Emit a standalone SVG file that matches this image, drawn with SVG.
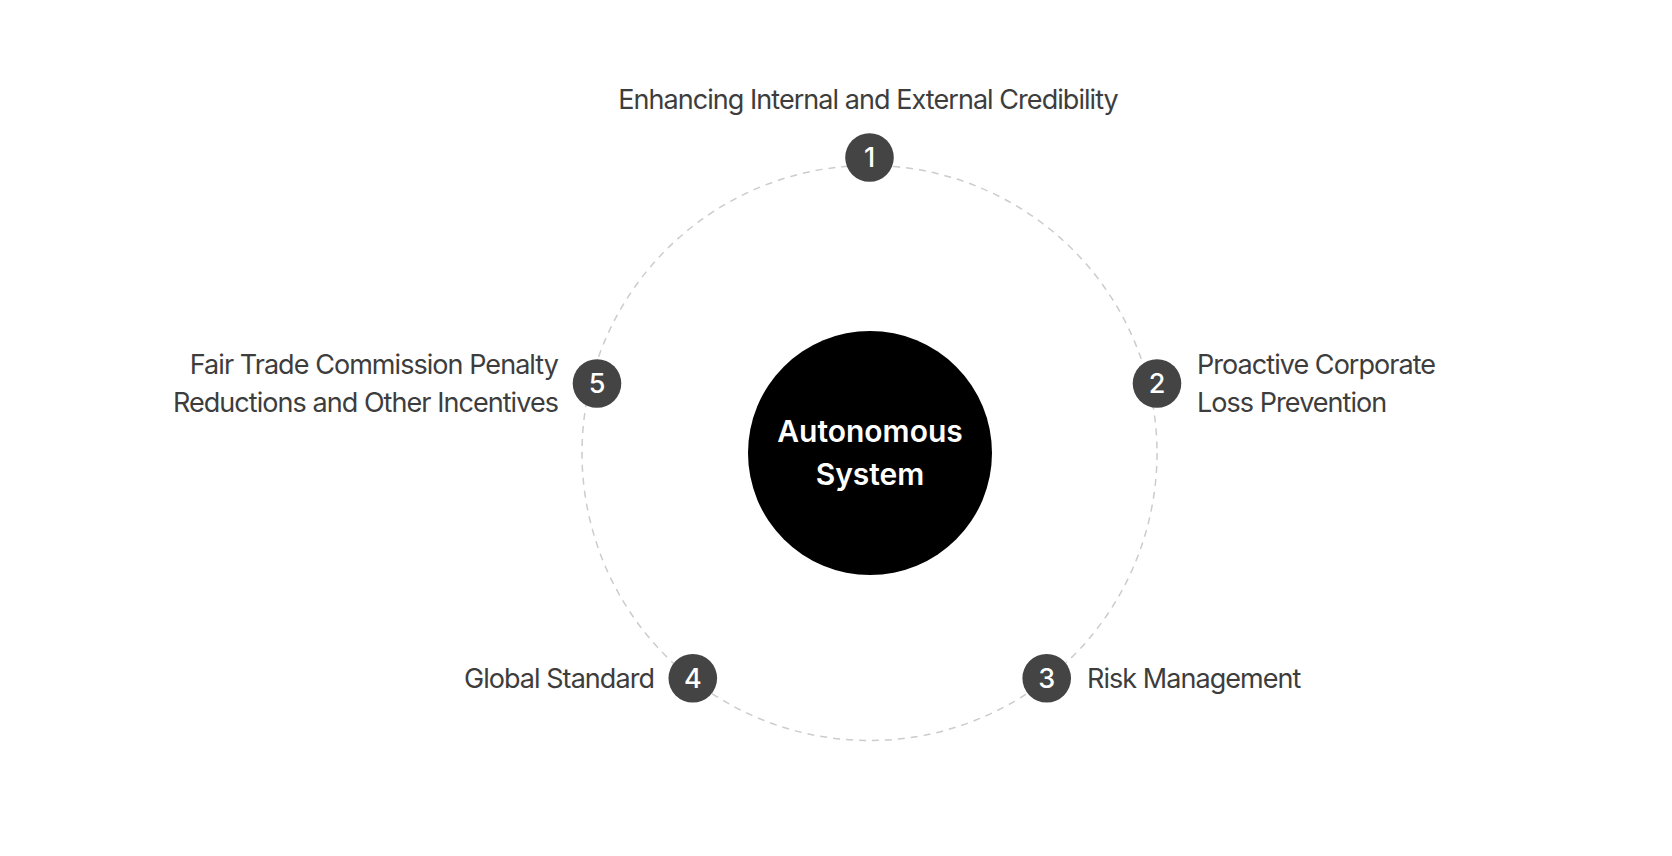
<svg xmlns="http://www.w3.org/2000/svg" width="1672" height="856" viewBox="0 0 1672 856">
  <style>
    .lbl { font-family: "Inter", "Noto Sans", "Liberation Sans", sans-serif; font-size: 27px; letter-spacing: -0.95px; fill: #3d3d3d; }
    .num { font-family: "Inter", "Noto Sans", "Liberation Sans", sans-serif; font-size: 27px; font-weight: 500; fill: #ffffff; text-anchor: middle; }
    .badge { fill: #444444; }
    .core { font-family: "Inter", "Noto Sans", "Liberation Sans", sans-serif; font-size: 30px; font-weight: 600; fill: #ffffff; text-anchor: middle; }
  </style>
  <rect x="0" y="0" width="1672" height="856" fill="#ffffff"/>
  <g id="connectors">
    <circle cx="869.5" cy="453" r="287.5" fill="none" stroke="#cccccc" stroke-width="1.5" stroke-dasharray="7 6"/>
  </g>
  <g id="center">
    <circle cx="870" cy="453" r="122" fill="#000000"/>
    <text class="core" x="870" y="442">Autonomous</text>
    <text class="core" x="870" y="485">System</text>
  </g>
  <g id="node1">
    <circle class="badge" cx="869.5" cy="157.5" r="24.3"/>
    <text class="num" x="869.5" y="167.3">1</text>
    <text class="lbl" x="868" y="109" text-anchor="middle">Enhancing Internal and External Credibility</text>
  </g>
  <g id="node2">
    <circle class="badge" cx="1157" cy="383.5" r="24.3"/>
    <text class="num" x="1157" y="393.3">2</text>
    <text class="lbl" x="1197" y="374">Proactive Corporate</text>
    <text class="lbl" x="1197" y="412">Loss Prevention</text>
  </g>
  <g id="node3">
    <circle class="badge" cx="1046.7" cy="678.3" r="24.3"/>
    <text class="num" x="1046.7" y="688.1">3</text>
    <text class="lbl" x="1087" y="688">Risk Management</text>
  </g>
  <g id="node4">
    <circle class="badge" cx="692.8" cy="678.3" r="24.3"/>
    <text class="num" x="692.8" y="688.1">4</text>
    <text class="lbl" x="654" y="688" text-anchor="end">Global Standard</text>
  </g>
  <g id="node5">
    <circle class="badge" cx="597" cy="383.5" r="24.3"/>
    <text class="num" x="597" y="393.3">5</text>
    <text class="lbl" x="558" y="374" text-anchor="end">Fair Trade Commission Penalty</text>
    <text class="lbl" x="558" y="412" text-anchor="end">Reductions and Other Incentives</text>
  </g>
</svg>
